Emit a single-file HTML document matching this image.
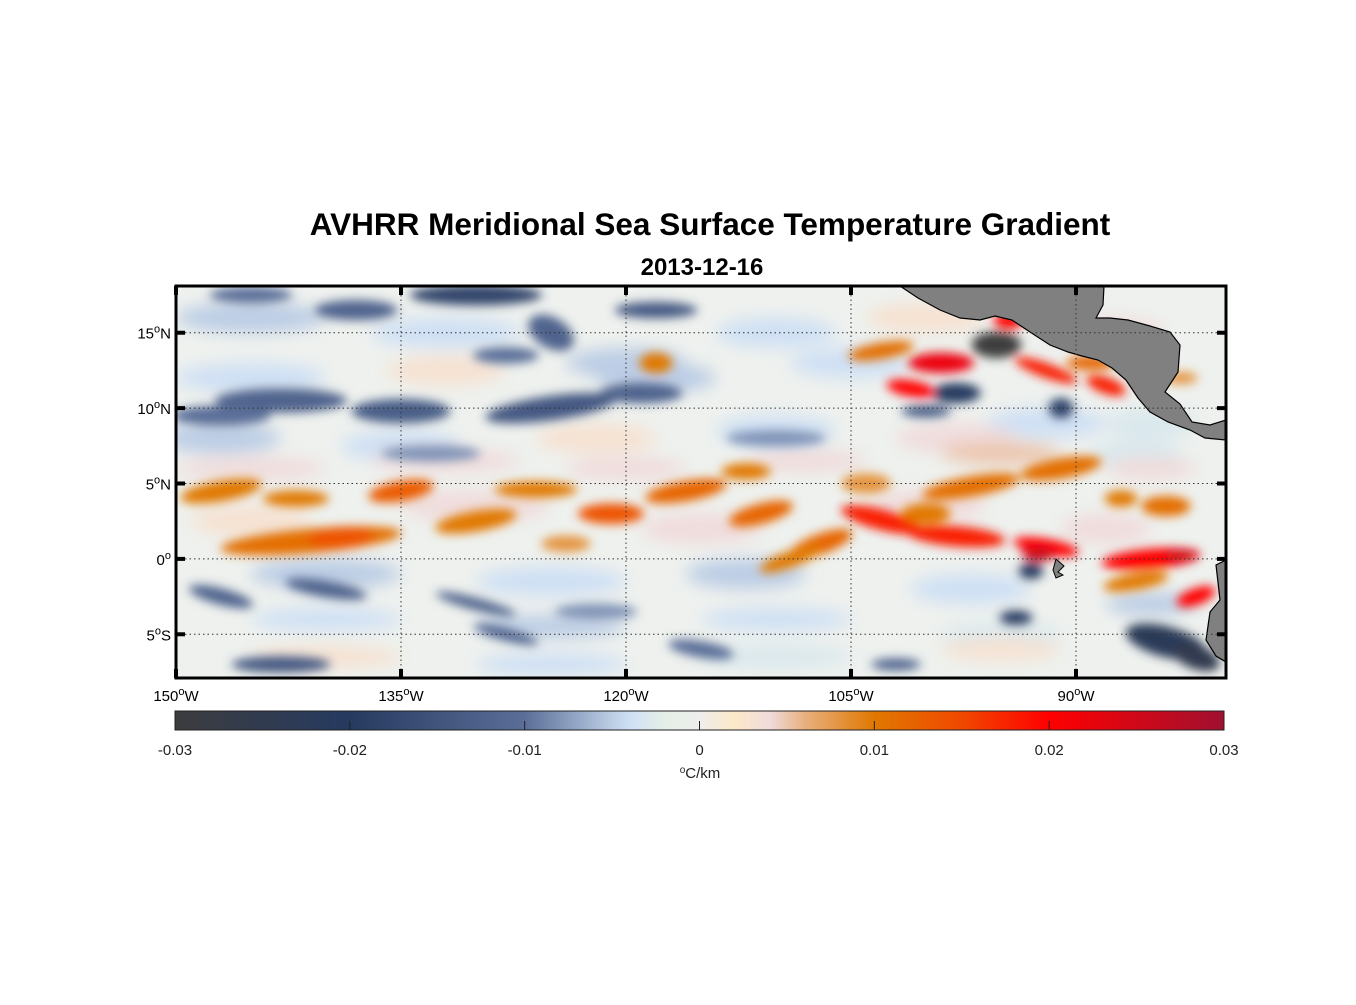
<!DOCTYPE html>
<html><head><meta charset="utf-8"><style>
body{margin:0;background:#fff;width:1356px;height:1000px;overflow:hidden;font-family:"Liberation Sans",Arial,sans-serif}
</style></head><body>
<svg id="chart" width="1356" height="1000" xmlns="http://www.w3.org/2000/svg" font-family="Liberation Sans, Arial, sans-serif">
<defs>
<filter id="blur" x="-20%" y="-20%" width="140%" height="140%"><feGaussianBlur stdDeviation="5"/></filter>
<filter id="blur2" x="-20%" y="-20%" width="140%" height="140%"><feGaussianBlur stdDeviation="8"/></filter>
<clipPath id="mapclip"><rect x="176" y="286" width="1050" height="392"/></clipPath>
<linearGradient id="cbgrad" x1="0" x2="1" y1="0" y2="0"></linearGradient>
</defs>
<text x="710" y="235" text-anchor="middle" font-size="31.5" font-weight="bold">AVHRR Meridional Sea Surface Temperature Gradient</text>
<text x="702" y="275" text-anchor="middle" font-size="24" font-weight="bold">2013-12-16</text>
<g id="map" clip-path="url(#mapclip)">
<rect x="176" y="286" width="1050" height="392" fill="#eef1ee"/>
<g id="bgfield" filter="url(#blur2)"></g>
<g id="field" filter="url(#blur)"></g>
<g id="land">
<polygon points="900,286 918,298 940,310 960,318 980,320 995,316 1012,320 1030,332 1050,345 1068,352 1082,356 1098,360 1112,368 1126,380 1138,398 1150,412 1168,422 1190,430 1205,438 1226,440 1226,420 1210,425 1192,422 1180,404 1165,392 1178,372 1180,345 1170,332 1150,326 1128,320 1110,318 1096,318 1103,305 1104,286" fill="#808080" stroke="#000" stroke-width="1.2"/>
<polygon points="1226,560 1216,565 1220,600 1210,612 1206,640 1216,656 1226,662" fill="#808080" stroke="#000" stroke-width="1.2"/>
<polygon points="1056,559 1064,566 1058,572 1063,575 1056,578 1053,570" fill="#808080" stroke="#000" stroke-width="1"/>
</g>
<g id="grid"></g>
</g>
<rect x="176" y="286" width="1050" height="392" fill="none" stroke="#000" stroke-width="3"/>
<g id="axes"></g>
<g id="colorbar"></g>
</svg>
<script>
const lonTicks=[-150,-135,-120,-105,-90];
const latTicks=[15,10,5,0,-5];
const cbTicks=[-0.03,-0.02,-0.01,0,0.01,0.02,0.03];
const cbTickLabels=["-0.03","-0.02","-0.01","0","0.01","0.02","0.03"];
const cmapVals=[-0.03,-0.02,-0.01,-0.004,-0.002,0,0.002,0.004,0.006,0.01,0.015,0.02,0.03];
const cmapCols=["#3c3c3e","#263a60","#5a6e98","#cfe0f4","#e4efe6","#eeeeec","#fce8c8","#f0dcdc","#e8b080","#e07800","#f04800","#ff0000","#a01030"];
// strong features: lon, lat, value, length(deg lon), width(deg lat), angle(deg)
const featLon=[-143,-135,-125,-119,-147,-130,-138,-125,-118,-145,-128,-95.3,-98,-91,-100,-147,-140,-130,-128,-93,-94,-84,-82,-143,-102,-115,-141,-139,-147,-142,-135,-126,-130,-124,-121,-116,-111,-112,-107,-109,-104,-103,-98,-92,-92.5,-97,-91,-100,-85,-83,-82,-86,-84,-87,-101,-99,-103,-94.5,-92,-88,-89,-118,-83,-133,-110,-122];
const featLat=[10.5,9.8,10,11,9.5,17.5,16.5,15,16.5,17.5,13.5,14.2,11,10,9.8,-2.5,-2,-3,-5,-0.8,-3.9,-5.5,-6.5,-7,-7,-6,1.2,1.4,4.5,4,4.5,4.6,2.5,1,3,4.5,3,5.8,1,0,5,2.6,1.5,0.8,0.3,4.8,6,3,0,0.2,-2.5,-1.5,3.5,4,11.3,13,13.8,15.8,12.5,11.5,13,13,12,7,8,-3.5];
const featVal=[-0.012,-0.013,-0.014,-0.012,-0.01,-0.018,-0.012,-0.012,-0.014,-0.01,-0.01,-0.03,-0.02,-0.018,-0.014,-0.012,-0.012,-0.012,-0.012,-0.02,-0.02,-0.022,-0.025,-0.014,-0.012,-0.01,0.011,0.014,0.01,0.01,0.013,0.01,0.01,0.008,0.014,0.012,0.012,0.01,0.012,0.01,0.008,0.018,0.018,0.02,0.026,0.011,0.011,0.01,0.02,0.025,0.02,0.01,0.011,0.01,0.02,0.022,0.011,0.02,0.018,0.018,0.012,0.01,0.008,-0.008,-0.008,-0.008];
const featLen=[8,6,8,5,6,8,5,3,5,5,4,3,3,1.5,3,4,5,5,4,1.5,2,5,3,6,3,4,11,4,5,4,4,5,5,3,4,5,4,3,4,4,3,5,6,4,2,6,5,3,6,2,1,4,3,2,3,4,4,1.8,4,2.5,3,2,2,6,6,5];
const featWid=[1.2,1.2,1.2,1,1,1,1,1.5,0.8,0.8,0.8,1.3,1,1,0.6,0.8,0.8,0.6,0.6,0.8,0.7,1.5,1.2,0.8,0.6,0.8,1.2,1,1,0.8,1,0.8,1,0.8,1,1,1,0.8,1,0.8,1,1,1,0.8,0.7,1,1,1,1,0.6,2,0.8,1,0.8,0.8,1,0.8,0.8,0.7,0.8,0.7,1,0.6,0.8,0.8,0.8];
const featAng=[0,0,-8,0,0,0,0,30,0,0,0,0,0,0,0,15,10,15,15,0,0,15,20,0,0,10,-5,-5,-10,0,-10,0,-10,0,0,-10,-15,0,-20,-20,0,15,5,10,0,-10,-10,0,-5,0,70,-10,0,0,10,0,-10,0,20,20,0,0,0,0,0,0];
// faint background texture
const bgLon=[-145,-132,-120,-110,-100,-88,-145,-132,-118,-105,-92,-85,-147,-135,-122,-110,-98,-86,-145,-132,-120,-108,-95,-85,-145,-130,-115,-100,-88,-140,-125,-112,-97,-140,-125,-110,-95,-85,-140,-125,-110,-95];
const bgLat=[16,15,13,15,16,15,12,12.5,12,13,9,9,8,7.5,8,8.5,8,7,6,6.5,6,6.5,7,6,2.5,3.5,2,3.5,2,-1,-1.5,-1,-2,-4,-4.5,-4,-5,-3,-6.5,-7,-6.5,-6];
const bgVal=[-0.005,-0.004,-0.005,-0.004,0.003,0.004,-0.004,0.003,-0.005,-0.004,-0.004,-0.003,-0.005,-0.004,0.003,-0.004,0.004,-0.003,0.004,0.004,0.004,0.004,0.005,0.004,0.003,0.004,0.004,0.004,0.004,-0.005,-0.004,-0.005,-0.004,-0.004,-0.005,-0.004,-0.003,-0.005,0.003,-0.004,-0.003,0.003];
const bgLen=[10,10,8,8,8,8,10,8,8,8,8,6,8,8,8,8,8,6,10,10,8,8,8,6,8,10,8,8,6,10,10,8,8,10,10,10,8,6,10,10,10,8];
const bgWid=[2,2,2,2,2,2,2,2,2,2,2,2,2,2,2,2,2,2,1.5,1.5,1.5,1.5,1.5,1.5,2,2,2,2,2,2,2,2,2,1.5,1.5,1.5,1.5,1.5,1.5,1.5,1.5,1.5];

const NS='http://www.w3.org/2000/svg';
const X0=176,X1=1226,LON0=-150,LON1=-80,Y0=286,Y1=678,LAT0=18.1,LAT1=-7.9;
const xs=lon=>X0+(lon-LON0)/(LON1-LON0)*(X1-X0);
const ys=lat=>Y0+(LAT0-lat)/(LAT0-LAT1)*(Y1-Y0);
const pxLon=(X1-X0)/(LON1-LON0),pxLat=(Y1-Y0)/(LAT0-LAT1);
function hex(c){return [1,3,5].map(i=>parseInt(c.substr(i,2),16));}
function cmap(v){
  if(v<=cmapVals[0])return cmapCols[0];
  for(let i=1;i<cmapVals.length;i++){if(v<=cmapVals[i]){const t=(v-cmapVals[i-1])/(cmapVals[i]-cmapVals[i-1]);const a=hex(cmapCols[i-1]),b=hex(cmapCols[i]);return 'rgb('+a.map((x,k)=>Math.round(x+(b[k]-x)*t)).join(',')+')';}}
  return cmapCols[cmapCols.length-1];
}
function mk(tag,attrs,parent){const e=document.createElementNS(NS,tag);for(const k in attrs)e.setAttribute(k,attrs[k]);parent.appendChild(e);return e;}
const bgfield=document.getElementById('bgfield');
for(let i=0;i<bgLon.length;i++){
  const e=mk('ellipse',{cx:xs(bgLon[i]),cy:ys(bgLat[i]),rx:bgLen[i]*pxLon/2,ry:bgWid[i]*pxLat/2,fill:cmap(bgVal[i])},bgfield);
  
  
}
const field=document.getElementById('field');
for(let i=0;i<featLon.length;i++){
  const cx=xs(featLon[i]),cy=ys(featLat[i]);
  const e=mk('ellipse',{cx:cx,cy:cy,rx:featLen[i]*pxLon/2*1.1,ry:featWid[i]*pxLat/2*1.35,fill:cmap(featVal[i]),transform:'rotate('+featAng[i]+' '+cx+' '+cy+')'},field);
  
  
}
const grid=document.getElementById('grid');
lonTicks.slice(1).forEach(l=>{const g=mk('line',{x1:xs(l),x2:xs(l),y1:Y0,y2:Y1,stroke:'#333','stroke-width':1,'stroke-dasharray':'1.5,3'},grid);});
latTicks.forEach(l=>{const g=mk('line',{x1:X0,x2:X1,y1:ys(l),y2:ys(l),stroke:'#333','stroke-width':1,'stroke-dasharray':'1.5,3'},grid);});
const axes=document.getElementById('axes');
lonTicks.forEach(l=>{
  const x=xs(l);
  const t1=mk('line',{x1:x,x2:x,y1:Y1,y2:Y1-9,stroke:'#000','stroke-width':4},axes);
  const t2=mk('line',{x1:x,x2:x,y1:Y0,y2:Y0+9,stroke:'#000','stroke-width':4},axes);
  const tx=mk('text',{x:x,y:701,'text-anchor':'middle','font-size':15},axes);
  
  tx.innerHTML=(-l)+'<tspan dy="-6" font-size="11">o</tspan><tspan dy="6">W</tspan>';
});
latTicks.forEach(l=>{
  const y=ys(l);
  const t1=mk('line',{x1:X0,x2:X0+9,y1:y,y2:y,stroke:'#000','stroke-width':4},axes);
  const t2=mk('line',{x1:X1,x2:X1-9,y1:y,y2:y,stroke:'#000','stroke-width':4},axes);
  const tx=mk('text',{x:171,y:y+6,'text-anchor':'end','font-size':15},axes);
  
  tx.innerHTML=Math.abs(l)+'<tspan dy="-6" font-size="11">o</tspan><tspan dy="6">'+(l>0?'N':l<0?'S':'')+'</tspan>';
});
const CB0=175,CB1=1224,CBY=711,CBH=19;
const cbs=v=>CB0+(v-cbTicks[0])/(cbTicks[cbTicks.length-1]-cbTicks[0])*(CB1-CB0);
const grad=document.getElementById('cbgrad');
for(let i=0;i<=120;i++){const v=-0.03+0.06*i/120;mk('stop',{offset:(i/120*100)+'%','stop-color':cmap(v)},grad);}
const cb=document.getElementById('colorbar');
const bar=mk('rect',{x:CB0,y:CBY,width:CB1-CB0,height:CBH,fill:'url(#cbgrad)',stroke:'#222','stroke-width':1},cb);

cbTicks.forEach((v,i)=>{
  const x=cbs(v);
  if(i>0&&i<cbTicks.length-1){const t=mk('line',{x1:x,x2:x,y1:CBY+CBH,y2:CBY+CBH-9,stroke:'#222','stroke-width':1},cb);}
  const tx=mk('text',{x:x,y:755,'text-anchor':'middle','font-size':15,fill:'#222'},cb);
  
  tx.textContent=cbTickLabels[i];
});
const ul=mk('text',{x:700,y:778,'text-anchor':'middle','font-size':15,fill:'#222'},cb);

ul.innerHTML='<tspan font-size="10" dy="-5">o</tspan><tspan dy="5">C/km</tspan>';
</script>
</body></html>
